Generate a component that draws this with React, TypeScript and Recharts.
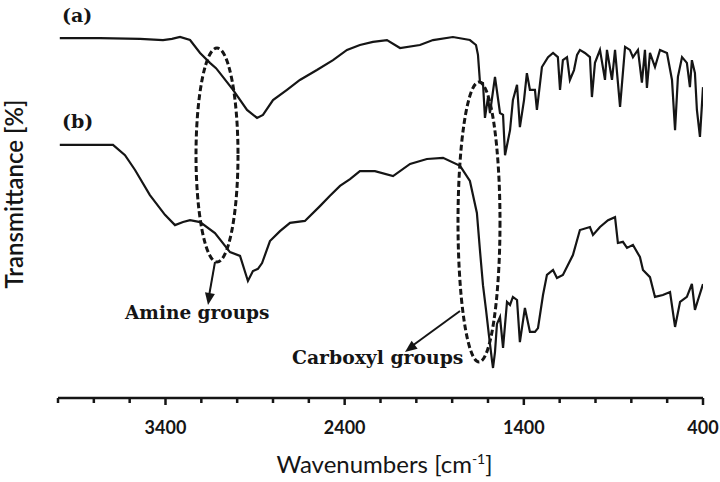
import { LineChart, Line, XAxis, YAxis } from "recharts";

// spectrum (a) – wavenumber [cm-1] / transmittance (arbitrary %)
const wavenumbersA = [
  3990, 3766, 3542, 3414, 3364, 3319, 3263, 3207, 3152, 3118, 3096, 3023, 2945,
  2889, 2856, 2800, 2722, 2650, 2555, 2465, 2387, 2315, 2242, 2164, 2091, 1980,
  1907, 1796, 1701, 1667, 1656, 1645, 1628, 1617, 1600, 1589, 1561, 1533, 1516,
  1505, 1477, 1461, 1438, 1422, 1399, 1383, 1366, 1338, 1327, 1299, 1265, 1237,
  1210, 1198, 1182, 1159, 1143, 1120, 1103, 1087, 1059, 1031, 1020, 1003, 975,
  947, 936, 908, 891, 863, 835, 808, 791, 763, 741, 724, 713, 696, 668, 640, 601,
  573, 556, 540, 517, 490, 473, 462, 445, 434, 417, 400,
];
const transmittanceA = [
  94.7, 94.7, 94.5, 94.2, 94.5, 95.0, 94.2, 90.8, 88.2, 86.8, 85.5, 81.1, 75.8,
  73.7, 74.5, 78.4, 81.1, 83.7, 86.3, 88.9, 91.6, 92.9, 93.7, 94.2, 92.1, 92.9,
  94.2, 95.0, 94.2, 92.9, 90.3, 83.2, 82.9, 73.7, 79.2, 75.0, 84.5, 75.0, 74.5,
  63.9, 70.5, 78.4, 82.4, 71.3, 78.4, 85.5, 81.1, 81.1, 75.8, 87.1, 89.7, 90.8,
  89.7, 81.1, 88.9, 89.7, 83.7, 86.3, 90.3, 91.6, 90.8, 89.7, 79.2, 88.2, 91.6,
  83.7, 91.6, 83.7, 91.6, 76.6, 92.4, 91.6, 89.7, 91.6, 83.0, 91.6, 81.6, 90.8,
  87.1, 91.6, 90.8, 83.7, 70.5, 84.5, 89.7, 88.2, 81.8, 88.9, 85.5, 75.8, 68.7,
  81.8,
];

// spectrum (b)
const wavenumbersB = [
  3990, 3693, 3626, 3570, 3487, 3403, 3347, 3302, 3263, 3207, 3124, 3040, 2984,
  2940, 2912, 2884, 2861, 2817, 2761, 2705, 2622, 2538, 2482, 2426, 2370, 2315,
  2231, 2130, 2035, 1941, 1851, 1756, 1701, 1662, 1645, 1628, 1611, 1595, 1578,
  1572, 1561, 1550, 1533, 1516, 1494, 1477, 1461, 1438, 1422, 1394, 1366, 1338,
  1321, 1293, 1271, 1237, 1215, 1182, 1154, 1126, 1087, 1031, 1014, 975, 930,
  891, 875, 847, 824, 791, 752, 735, 696, 668, 624, 584, 556, 528, 490, 462, 445,
  428, 400,
];
const transmittanceB = [
  66.6, 66.6, 63.9, 60.0, 53.4, 48.2, 45.5, 46.3, 46.8, 46.3, 43.4, 38.4, 37.4,
  30.8, 33.4, 34.0, 35.5, 41.3, 43.9, 46.1, 46.6, 50.5, 53.2, 55.8, 57.6, 59.7,
  59.7, 58.4, 61.6, 62.9, 63.2, 61.1, 57.1, 48.7, 38.9, 29.7, 23.2, 16.6, 10.0,
  7.9, 12.1, 19.5, 21.3, 13.2, 25.3, 24.5, 26.6, 25.8, 14.7, 23.7, 17.4, 17.4,
  18.4, 27.1, 32.4, 33.7, 31.6, 32.4, 35.0, 37.6, 44.2, 45.0, 42.9, 45.0, 46.8,
  47.6, 40.8, 41.1, 39.5, 40.3, 37.1, 33.7, 31.8, 26.6, 27.1, 27.9, 18.7, 25.3,
  26.6, 30.0, 23.2, 25.8, 30.0,
];

const xTicks = [
  4000, 3800, 3600, 3400, 3200, 3000, 2800, 2600, 2400, 2200, 2000, 1800, 1600,
  1400, 1200, 1000, 800, 600, 400,
];
const labeledTicks = [3400, 2400, 1400, 400];

const seriesA = wavenumbersA.map((wn, i) => ({ wn, t: transmittanceA[i] }));
const seriesB = wavenumbersB.map((wn, i) => ({ wn, t: transmittanceB[i] }));

const ink = "#151515";

const AxisTick = (props: any) => {
  const { x, y, payload } = props;
  const major = labeledTicks.includes(payload.value);
  return (
    <g>
      <line x1={x} x2={x} y1={y} y2={y + (major ? 7 : 5)} stroke={ink} strokeWidth={2.5} />
      {major && (
        <text
          x={x}
          y={y + 36}
          textAnchor="middle"
          fontFamily="Lato"
          fontWeight="bold"
          fontSize={18}
          fill={ink}
        >
          {payload.value}
        </text>
      )}
    </g>
  );
};

const XLabel = (props: any) => {
  const { x, y, width } = props.viewBox;
  return (
    <text x={x + width / 2 + 4} y={y + 75} textAnchor="middle" fontFamily="Lato" fontSize={24} fill={ink}>
      Wavenumbers [cm
      <tspan fontSize={14} dy={-9}>-1</tspan>
      <tspan dy={9}>]</tspan>
    </text>
  );
};

const YLabel = (props: any) => {
  const { y, height } = props.viewBox;
  const cy = y + height / 2 - 14;
  return (
    <text
      x={23}
      y={cy}
      transform={`rotate(-90, 23, ${cy})`}
      textAnchor="middle"
      fontFamily="Lato"
      fontWeight={600}
      fontSize={24}
      fill={ink}
    >
      Transmittance [%]
    </text>
  );
};

// arrow head polygon pointing from (x1,y1) to (x2,y2)
function head(x1: number, y1: number, x2: number, y2: number, len = 12, half = 5) {
  const a = Math.atan2(y2 - y1, x2 - x1);
  const bx = x2 - len * Math.cos(a);
  const by = y2 - len * Math.sin(a);
  const px = -Math.sin(a) * half;
  const py = Math.cos(a) * half;
  return `${x2},${y2} ${bx + px},${by + py} ${bx - px},${by - py}`;
}

const serif = "DejaVu Serif";

const Notes = () => (
  <svg
    width={720}
    height={482}
    style={{ position: "absolute", left: 0, top: 0, pointerEvents: "none" }}
  >
    <text x={62} y={22} fontFamily={serif} fontWeight="bold" fontSize={19} fill={ink}>
      (a)
    </text>
    <text x={62} y={128} fontFamily={serif} fontWeight="bold" fontSize={19} fill={ink}>
      (b)
    </text>
    <ellipse cx={217} cy={155} rx={21} ry={107} fill="none" stroke={ink} strokeWidth={3} strokeDasharray="6 3" />
    <ellipse cx={479} cy={222} rx={21} ry={140} fill="none" stroke={ink} strokeWidth={3} strokeDasharray="6 3" />
    <line x1={215} y1={262} x2={209} y2={296} stroke={ink} strokeWidth={2} />
    <polygon points={head(215, 262, 208, 305)} fill={ink} />
    <line x1={460} y1={311} x2={412} y2={346} stroke={ink} strokeWidth={2} />
    <polygon points={head(460, 311, 405, 352)} fill={ink} />
    <text x={125} y={319} fontFamily={serif} fontWeight="bold" fontSize={18.5} fill={ink}>
      Amine groups
    </text>
    <text x={292} y={364} fontFamily={serif} fontWeight="bold" fontSize={18.8} fill={ink}>
      Carboxyl groups
    </text>
  </svg>
);

export default function App() {
  return (
    <div style={{ position: "absolute", left: 0, top: 0, width: 720, height: 482, background: "#fff" }}>
      <LineChart width={720} height={482} margin={{ top: 18, right: 17, bottom: 0, left: 0 }}>
        <XAxis
          dataKey="wn"
          type="number"
          domain={[400, 4000]}
          reversed
          allowDataOverflow
          ticks={xTicks}
          interval={0}
          tickLine={false}
          tickSize={0}
          tickMargin={0}
          height={84}
          axisLine={{ stroke: ink, strokeWidth: 2.5 }}
          tick={<AxisTick />}
          label={<XLabel />}
        />
        <YAxis
          type="number"
          domain={[0, 100]}
          width={58}
          tick={false}
          tickLine={false}
          axisLine={false}
          label={<YLabel />}
        />
        <Line data={seriesA} dataKey="t" type="linear" stroke={ink} strokeWidth={2.2} dot={false} isAnimationActive={false} />
        <Line data={seriesB} dataKey="t" type="linear" stroke={ink} strokeWidth={2.2} dot={false} isAnimationActive={false} />
      </LineChart>
      <Notes />
    </div>
  );
}
